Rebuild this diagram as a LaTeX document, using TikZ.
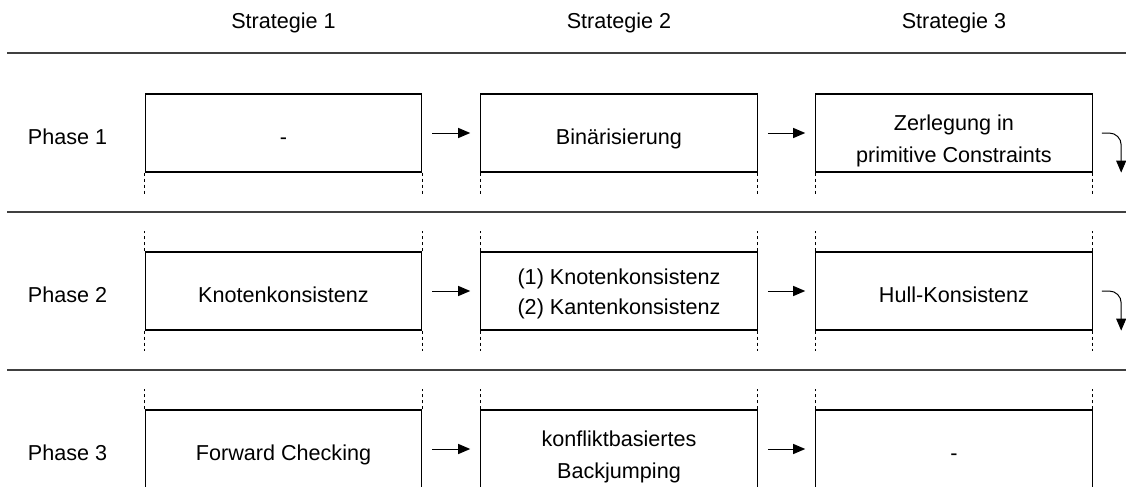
\documentclass[tikz,border=0pt]{standalone}
\usepackage{fontspec}
\setmainfont{Liberation Sans}
\usetikzlibrary{arrows.meta}

\tikzset{
  schrift/.style={text height=11pt, text depth=0pt},
  stufe/.style={draw, line width=0.6pt, minimum width=138.2pt, minimum height=39pt, align=center, inner sep=0pt, schrift},
  zwei/.style={text height=29pt, text depth=0pt},
  pfeil/.style={-{Triangle[length=6pt,width=5pt]}, line width=0.5pt},
  trenner/.style={draw=black!75, line width=0.7pt},
  punkte/.style={dash pattern=on 1.5pt off 1.5pt, line width=0.5pt},
}

\begin{document}
\begin{tikzpicture}[x=0.5pt,y=-0.5pt,font=\fontsize{10.8}{16}\selectfont]
			\clip (0,0) rectangle (1126,487);
			% Spaltenkoepfe und Zeilenkoepfe
			\node[schrift] (s1) at (283.5,17) {Strategie 1};
			\node[schrift] (s2) at (619,17) {Strategie 2};
			\node[schrift] (s3) at (954,17) {Strategie 3};
			\node[schrift] (p1) at (67.5,133) {Phase 1};
			\node[schrift] (p2) at (67.5,291) {Phase 2};
			\node[schrift] (p3) at (67.5,449) {Phase 3};
			\foreach \y in {53,212,370} \draw[trenner] (7,\y) -- (1126,\y);
			% Kaesten
			\node[stufe] (k11) at (s1 |- p1) {-};
			\node[stufe] (k12) at (s2 |- p1) {Binärisierung};
			\node[stufe, zwei] (k13) at (s3 |- p1) {Zerlegung in\\primitive Constraints};
			\node[stufe] (k21) at (s1 |- p2) {Knotenkonsistenz};
			\node[stufe, zwei, text height=23pt] (k22) at (s2 |- p2) {(1) Knotenkonsistenz\\[-1pt](2) Kantenkonsistenz};
			\node[stufe] (k23) at (s3 |- p2) {Hull-Konsistenz};
			\node[stufe] (k31) at (s1 |- p3) {Forward Checking};
			\node[stufe, zwei] (k32) at (s2 |- p3) {konfliktbasiertes\\Backjumping};
			\node[stufe] (k33) at (s3 |- p3) {-};
			% gepunktete Fortsetzungen
			\foreach \s in {1,2,3} {
				\draw[punkte] (k1\s.south west) -- ++(0,21) (k1\s.south east) -- ++(0,21);
				\draw[punkte] (k2\s.north west) -- ++(0,-20) (k2\s.north east) -- ++(0,-20);
				\draw[punkte] (k2\s.south west) -- ++(0,20) (k2\s.south east) -- ++(0,20);
				\draw[punkte] (k3\s.north west) -- ++(0,-20) (k3\s.north east) -- ++(0,-20);
			}
			% Pfeile
			\foreach \z in {1,2,3} {
				\draw[pfeil, shorten <=5pt, shorten >=5pt] (k\z1) -- (k\z2);
				\draw[pfeil, shorten <=5pt, shorten >=5pt] (k\z2) -- (k\z3);
			}
			\draw[pfeil, rounded corners=6pt] ([xshift=4.5pt]k13.east) -| ([xshift=14.2pt]k13.south east);
			\draw[pfeil, rounded corners=6pt] ([xshift=4.5pt]k23.east) -| ([xshift=14.2pt]k23.south east);
		\end{tikzpicture}
\end{document}
